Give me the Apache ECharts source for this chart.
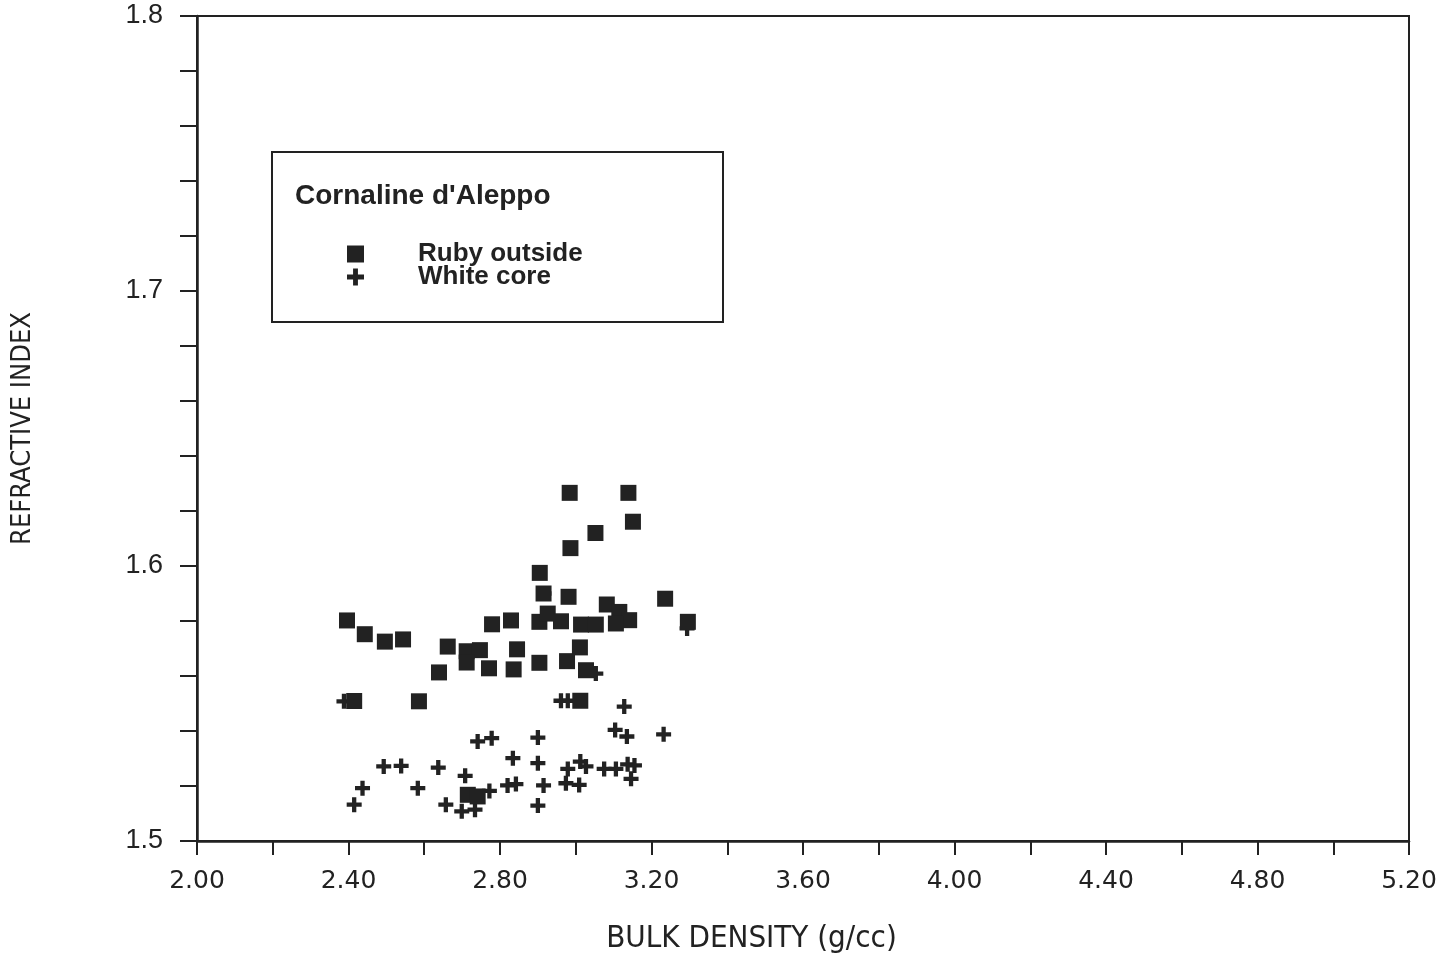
<!DOCTYPE html>
<html>
<head>
<meta charset="utf-8">
<script src="https://cdn.jsdelivr.net/npm/echarts@6/dist/echarts.min.js"></script>
<style>html,body{margin:0;padding:0;background:#fff;}#c{width:1443px;height:959px;}</style>
</head>
<body>
<div id="c"></div>
<script>
var xTicks = ['2.00','2.40','2.80','3.20','3.60','4.00','4.40','4.80','5.20'];
var yTicks = ['1.5','1.6','1.7','1.8'];
var legendTitle = "Cornaline d'Aleppo";
var seriesNames = ['Ruby outside', 'White core'];

var rubyOutside = [
  [2.396,1.5802],[2.443,1.5752],[2.496,1.5725],[2.544,1.5733],[2.662,1.5707],
  [2.712,1.5690],[2.747,1.5694],[2.712,1.5649],[2.639,1.5613],[2.771,1.5628],
  [2.779,1.5788],[2.829,1.5802],[2.845,1.5697],[2.836,1.5624],[2.415,1.5509],
  [2.586,1.5508],[2.984,1.6266],[3.139,1.6266],[3.151,1.6161],[3.052,1.6120],
  [2.986,1.6065],[2.905,1.5975],[2.915,1.5900],[2.981,1.5888],[3.236,1.5881],
  [3.082,1.5860],[3.115,1.5833],[3.141,1.5803],[3.106,1.5791],[2.904,1.5797],
  [2.926,1.5827],[2.961,1.5799],[3.014,1.5787],[3.053,1.5787],[3.296,1.5797],
  [3.011,1.5704],[2.904,1.5648],[2.977,1.5654],[3.027,1.5621],[3.012,1.5510],
  [2.715,1.5168],[2.741,1.5162]
];
var whiteCore = [
  [2.415,1.5132],[2.437,1.5192],[2.493,1.5271],[2.539,1.5273],[2.583,1.5192],
  [2.637,1.5267],[2.657,1.5132],[2.708,1.5237],[2.741,1.5362],[2.778,1.5374],
  [2.834,1.5301],[2.772,1.5182],[2.820,1.5202],[2.842,1.5207],[2.699,1.5108],
  [2.734,1.5114],[3.128,1.5489],[3.104,1.5404],[3.135,1.5380],[3.232,1.5388],
  [2.900,1.5376],[2.900,1.5283],[2.915,1.5202],[2.900,1.5129],[2.979,1.5262],
  [3.012,1.5289],[3.027,1.5271],[2.974,1.5210],[3.009,1.5204],[3.075,1.5262],
  [3.106,1.5262],[3.137,1.5279],[3.155,1.5275],[3.146,1.5226],[2.961,1.5510],
  [2.979,1.5510],[3.053,1.5609],[2.388,1.5508],[2.916,1.5900],[3.294,1.5773]
];

var ink = '#222';
var plusPath = 'path://M5,0H9V5H14V9H9V14H5V9H0V5H5Z';
var chart = echarts.init(document.getElementById('c'));
chart.setOption({
  animation: false,
  backgroundColor: '#fff',
  grid: { left: 197, right: 34, top: 16, bottom: 116, show: true, borderColor: ink, borderWidth: 2, backgroundColor: 'transparent' },
  xAxis: {
    type: 'value', min: 2.0, max: 5.2, interval: 0.4,
    name: 'BULK DENSITY (g/cc)', nameLocation: 'middle', nameGap: 82,
    nameTextStyle: { fontFamily: 'DejaVu Sans Condensed', fontSize: 31, color: ink, padding: [0, 103, 0, 0] },
    axisLine: { show: true, lineStyle: { color: ink, width: 2.5 } },
    axisTick: { show: true, length: 14, lineStyle: { color: ink, width: 2 } },
    minorTick: { show: true, splitNumber: 2, length: 14, lineStyle: { color: ink, width: 2 } },
    splitLine: { show: false },
    axisLabel: { fontFamily: 'DejaVu Sans', fontSize: 25, color: ink, margin: 28,
      formatter: function (v) { var s = v.toFixed(2); return xTicks.indexOf(s) >= 0 ? s : ''; } }
  },
  yAxis: {
    type: 'value', min: 1.5, max: 1.8, interval: 0.1,
    name: 'REFRACTIVE INDEX', nameLocation: 'middle', nameGap: 161,
    nameTextStyle: { fontFamily: 'DejaVu Sans Condensed', fontSize: 27, color: ink },
    axisLine: { show: true, lineStyle: { color: ink, width: 2.5 } },
    axisTick: { show: true, length: 17, lineStyle: { color: ink, width: 2 } },
    minorTick: { show: true, splitNumber: 5, length: 17, lineStyle: { color: ink, width: 2 } },
    splitLine: { show: false },
    axisLabel: { fontFamily: 'Liberation Sans', fontSize: 27, color: ink, margin: 34,
      formatter: function (v) { var s = v.toFixed(1); return yTicks.indexOf(s) >= 0 ? s : ''; } }
  },
  legend: {
    left: 342, top: 236, orient: 'vertical', itemWidth: 17, itemHeight: 17, itemGap: -3,
    selectedMode: false,
    data: [
      { name: seriesNames[0], icon: 'rect' },
      { name: seriesNames[1], icon: plusPath }
    ],
    textStyle: { fontFamily: 'Liberation Sans', fontWeight: 'bold', fontSize: 26, color: ink, padding: [0, 0, 0, 49] }
  },
  graphic: [
    { type: 'rect', shape: { x: 272, y: 152, width: 451, height: 170 }, style: { fill: 'none', stroke: ink, lineWidth: 2 }, z: 10 },
    { type: 'text', x: 295, y: 196, style: { text: legendTitle, fontFamily: 'Liberation Sans', fontWeight: 'bold', fontSize: 28, fill: ink, verticalAlign: 'middle' }, z: 10 }
  ],
  series: [
    { name: seriesNames[0], type: 'scatter', data: rubyOutside, symbol: 'rect', symbolSize: 16, itemStyle: { color: ink, opacity: 1 }, z: 3 },
    { name: seriesNames[1], type: 'scatter', data: whiteCore, symbol: plusPath, symbolSize: 15, itemStyle: { color: ink, opacity: 1 }, z: 2 }
  ]
});
</script>
</body>
</html>
